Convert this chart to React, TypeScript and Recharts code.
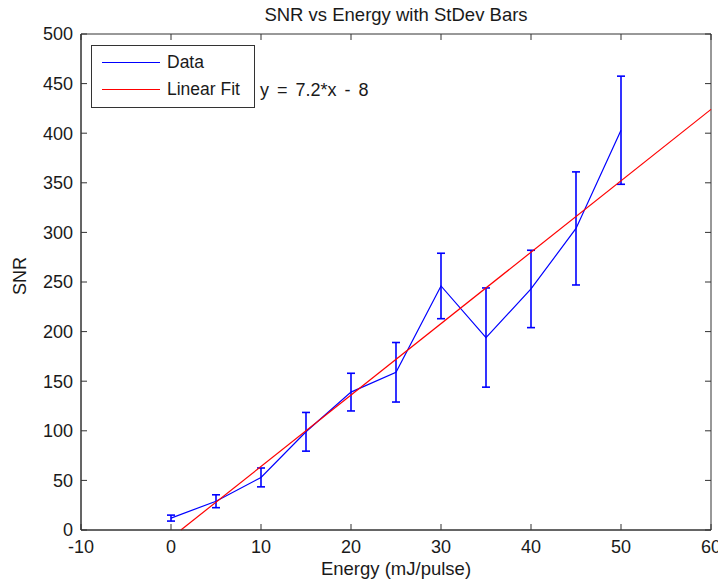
import { ComposedChart, Line, XAxis, YAxis, ErrorBar, Legend, ReferenceArea } from "recharts";

const energy = [0, 5, 10, 15, 20, 25, 30, 35, 40, 45, 50];
const snr = [12, 29, 53, 99, 139, 159, 246, 194, 243, 304, 403];
const snrStd = [3, 6.5, 9.5, 19.5, 19, 30, 33, 50, 39, 57, 54.5];

// linear fit endpoints (y = 7.2*x - 8, clipped at y = 0)
const fitEnergy = [1.1, 60];
const fitSnr = [0, 424];

const xTicks = [-10, 0, 10, 20, 30, 40, 50, 60];
const yTicks = [0, 50, 100, 150, 200, 250, 300, 350, 400, 450, 500];

const legendItems = [
    { name: "Data", color: "#0000ff" },
    { name: "Linear Fit", color: "#ff0000" },
];

const dataPoints = energy.map((e, i) => ({ energy: e, snr: snr[i], std: snrStd[i] }));
const fitPoints = fitEnergy.map((e, i) => ({ energy: e, fit: fitSnr[i] }));

const FONT = '"Liberation Sans", Arial, Helvetica, sans-serif';
const AXIS = "#333333";
const TEXT = "#1a1a1a";

// plot box edges (matches the chart margins below)
const PLOT_TOP = 34;
const PLOT_RIGHT = 711;
const TICK_LEN = 6;
const X_TICK_GAP = 10;
const Y_TICK_GAP = 8;

// MATLAB style: ticks point into the plot, mirrored on the opposite side
function BottomTick(props: any) {
    const { x, y, payload } = props;
    const axisY = y - X_TICK_GAP;
    return (
        <g>
            <line x1={x} x2={x} y1={axisY} y2={axisY - TICK_LEN} stroke={AXIS} />
            <line x1={x} x2={x} y1={PLOT_TOP} y2={PLOT_TOP + TICK_LEN} stroke={AXIS} />
            <text x={x} y={y} dy="0.72em" textAnchor="middle" fontFamily={FONT} fontSize={18} fill={TEXT}>
                {payload.value}
            </text>
        </g>
    );
}

function LeftTick(props: any) {
    const { x, y, payload } = props;
    const axisX = x + Y_TICK_GAP;
    return (
        <g>
            <line x1={axisX} x2={axisX + TICK_LEN} y1={y} y2={y} stroke={AXIS} />
            <line x1={PLOT_RIGHT - TICK_LEN} x2={PLOT_RIGHT} y1={y} y2={y} stroke={AXIS} />
            <text x={x} y={y} dy="0.36em" textAnchor="end" fontFamily={FONT} fontSize={18} fill={TEXT}>
                {payload.value}
            </text>
        </g>
    );
}

function LegendBox() {
    return (
        <div
            style={{
                position: "relative",
                width: 162,
                height: 61,
                border: `1px solid ${AXIS}`,
                background: "#fff",
                fontFamily: FONT,
                fontSize: 17.5,
                color: TEXT,
            }}
        >
            {legendItems.map((item, i) => (
                <div
                    key={item.name}
                    style={{ position: "absolute", left: 10, top: 5 + i * 27, height: 22, display: "flex", alignItems: "center" }}
                >
                    <div style={{ width: 58, height: 0, borderTop: `1px solid ${item.color}`, marginRight: 7 }} />
                    <span>{item.name}</span>
                </div>
            ))}
        </div>
    );
}

function SnrLabel(props: { viewBox?: { x: number; y: number; width: number; height: number } }) {
    const vb = props.viewBox;
    if (!vb) return null;
    const cx = vb.x + 20;
    const cy = vb.y + vb.height / 2 - 6;
    return (
        <text x={cx} y={cy} transform={`rotate(-90 ${cx} ${cy})`} textAnchor="middle" dominantBaseline="central"
            fontFamily={FONT} fontSize={18} fill={TEXT}>
            SNR
        </text>
    );
}

export default function App() {
    return (
        <div style={{ position: "absolute", left: 0, top: 0, width: 718, height: 586, background: "#fff" }}>
            <div
                style={{
                    position: "absolute",
                    left: 81,
                    width: 630,
                    top: 5,
                    textAlign: "center",
                    fontFamily: FONT,
                    fontSize: 18.5,
                    lineHeight: "20px",
                    color: TEXT,
                }}
            >
                SNR vs Energy with StDev Bars
            </div>
            <ComposedChart width={718} height={586} margin={{ top: PLOT_TOP, right: 718 - PLOT_RIGHT, bottom: 0, left: 0 }}>
                <ReferenceArea x1={-10} x2={60} y1={0} y2={500} fill="none" stroke={AXIS} strokeWidth={1} />
                <XAxis
                    type="number"
                    dataKey="energy"
                    domain={[-10, 60]}
                    ticks={xTicks}
                    interval={0}
                    height={56}
                    stroke={AXIS}
                    tickLine={false}
                    tickSize={0}
                    tickMargin={X_TICK_GAP}
                    tick={<BottomTick />}
                    label={{ value: "Energy (mJ/pulse)", position: "insideBottom", offset: 11, fill: TEXT, fontSize: 18.5, fontFamily: FONT }}
                />
                <YAxis
                    type="number"
                    domain={[0, 500]}
                    ticks={yTicks}
                    interval={0}
                    width={81}
                    stroke={AXIS}
                    tickLine={false}
                    tickSize={0}
                    tickMargin={Y_TICK_GAP}
                    tick={<LeftTick />}
                    label={<SnrLabel />}
                />
                <Line
                    data={dataPoints}
                    dataKey="snr"
                    name="Data"
                    stroke="#0000ff"
                    strokeWidth={1.2}
                    dot={false}
                    isAnimationActive={false}
                >
                    <ErrorBar dataKey="std" direction="y" width={4} stroke="#0000ff" strokeWidth={1.6} isAnimationActive={false} />
                </Line>
                <Line
                    data={fitPoints}
                    dataKey="fit"
                    name="Linear Fit"
                    stroke="#ff0000"
                    strokeWidth={1.2}
                    dot={false}
                    isAnimationActive={false}
                />
                <Legend
                    layout="vertical"
                    align="center"
                    verticalAlign="middle"
                    content={() => <LegendBox />}
                    wrapperStyle={{ left: 91, top: 45, width: "auto", height: "auto" }}
                />
            </ComposedChart>
            <div
                style={{
                    position: "absolute",
                    left: 260,
                    top: 79,
                    fontFamily: FONT,
                    fontSize: 18,
                    lineHeight: "22px",
                    wordSpacing: 3,
                    color: TEXT,
                    whiteSpace: "pre",
                }}
            >
                y = 7.2*x - 8
            </div>
        </div>
    );
}
